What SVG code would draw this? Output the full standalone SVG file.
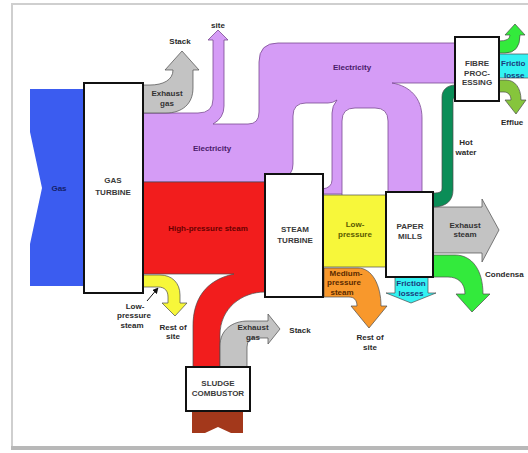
<svg xmlns="http://www.w3.org/2000/svg" width="528" height="453" viewBox="0 0 528 453">
<defs>
<style>
.fl{stroke:#4a4a4a;stroke-width:0.7;stroke-linejoin:round}
.pu{fill:#d59cf6;stroke:#7a4a92;stroke-width:0.8;stroke-linejoin:round}
.hole{fill:#ffffff;stroke:#7a4a92;stroke-width:0.8}
.box{fill:#ffffff;stroke:#111111;stroke-width:2}
text{font-family:"Liberation Sans",Arial,sans-serif;font-size:8px;font-weight:bold;fill:#2a2a2a}
.c{text-anchor:middle}
.bx{fill:#3a3a3a}
</style>
<marker id="ah" viewBox="0 0 10 10" refX="9" refY="5" markerWidth="6" markerHeight="6" orient="auto"><path d="M0,0 L10,5 L0,10 Z" fill="#111"/></marker>
</defs>
<rect x="0" y="0" width="528" height="453" fill="#ffffff"/>
<rect x="12" y="4" width="530" height="443" fill="#ffffff" stroke="#cfcfcf" stroke-width="2"/>
<rect x="11" y="446" width="530" height="4" fill="#b8b8b8"/>

<g id="flows">
<path id="gas" d="M30,89 L86,89 L86,286 L30,286 L30,244 L42,188 L30,132 Z" fill="#3b5cf0"/>
<path id="electricity" class="pu" d="M143,113 L198,113 Q213,113 213,99 L213,40 L208,40 L218,30 L228,40 L224,40 L224,106 Q224,118 213,124 L248,124 Q259,124 259,112 L259,62 Q259,43 278,43 L456,43 L456,83 L392,83 C410,86 422,98 422,118 L422,194 L323,194 L323,174 L265,174 L265,182 L143,182 Z"/>
<path class="hole" d="M283,176 Q293,176 293,164 L293,116 Q293,103 306,103 L328,103 Q333,103 337,100 Q332,106 332,113 L332,180 Q332,188 322,189 L283,189 Z"/>
<path class="hole" d="M342,198 L342,121 Q342,108 355,108 L375,108 Q388,108 388,121 L388,198 Z"/>
<path id="gt-exhaust" class="fl" fill="#c3c3c3" d="M143,85 L150,85 C163,85 173,80 173,70 L165,70 L182,51 L199,70 L193,70 L193,88 C193,104 182,113 166,113 L143,113 Z"/>
<path id="hp-steam" class="fl" fill="#f21d1d" d="M143,182 L265,182 L265,292 C242,292 220,308 220,335 L220,368 L193,368 L193,326 C193,300 205,280 234,274 L143,274 Z"/>
<path id="lp-left" class="fl" fill="#f7f73a" d="M143,275 L160,275 C172,275 180,283 180,295 L180,303 L187,303 L175,316 L162,303 L168,303 L168,297 C168,291 165,287 158,287 L143,287 Z"/>
<path id="sludge-exhaust" class="fl" fill="#c3c3c3" d="M220,368 L220,346 C220,330 232,321 248,321 L268,321 L268,314 L280,329 L268,344 L268,338 L256,338 Q247,338 247,347 L247,368 Z"/>
<path id="sludge-in" fill="#a3381b" d="M192,411 L243,411 L243,433 L231,433 L218,427 L205,433 L192,433 Z"/>
<rect id="lp-mid" class="fl" x="323" y="195" width="64" height="72" fill="#f7f73a"/>
<path id="mp-steam" class="fl" fill="#f8982c" d="M324,268 L358,268 C372,268 381,285 381,306 L387,306 L369,328 L351,306 L357,306 C357,300 354,297 349,297 L324,297 Z"/>
<path id="friction-pm" class="fl" fill="#33f2f2" d="M395,277 L428,277 L428,293 L436,293 L411,303 L386,293 L395,293 Z"/>
<path id="exhaust-steam" class="fl" fill="#c3c3c3" d="M433,207 L482,207 L482,199 L499,230 L482,262 L482,253 L433,253 Z"/>
<path id="condensate" class="fl" fill="#33ea3c" d="M433,255 L455,255 C472,255 483,270 483,294 L490,294 L472,312 L456,294 L465,294 C465,283 458,277 448,277 L433,277 Z"/>
<path id="hot-water" class="fl" fill="#0b8d57" d="M456,85 C447,85 442,90 442,97 L442,188 C442,192 440,193 433,193 L433,207 C447,207 453,200 453,190 L453,100 C453,98 454,98 456,98 Z"/>
<path id="fp-green" class="fl" fill="#33ea3c" d="M499,41 Q510,41 510,35 L505,35 L515,24 L525,35 L520,35 Q520,53 505,53 L499,53 Z"/>
<rect id="fp-friction" class="fl" x="499" y="54" width="32" height="24" fill="#33f2f2"/>
<path id="effluent" class="fl" fill="#86c53c" d="M499,80 L506,80 C515,80 521,88 521,100 L526,100 L516,114 L505,100 L511,100 C511,95 508,92 504,92 L499,92 Z"/>
<line x1="147" y1="301" x2="158" y2="288" stroke="#111" stroke-width="1" marker-end="url(#ah)"/>
</g>

<g id="gas-turbine"><rect class="box" x="84" y="83" width="59" height="210"/><text class="c bx" x="113" y="183">GAS</text><text class="c bx" x="113" y="195">TURBINE</text></g>
<g id="steam-turbine"><rect class="box" x="265" y="174" width="58" height="123"/><text class="c bx" x="295" y="232">STEAM</text><text class="c bx" x="295" y="243">TURBINE</text></g>
<g id="paper-mills"><rect class="box" x="386" y="192" width="47" height="85"/><text class="c bx" x="410" y="229">PAPER</text><text class="c bx" x="410" y="239">MILLS</text></g>
<g id="fibre-processing"><rect class="box" x="455" y="37" width="44" height="64"/><text class="c bx" x="477" y="66">FIBRE</text><text class="c bx" x="477" y="76">PROC-</text><text class="c bx" x="477" y="85">ESSING</text></g>
<g id="sludge-combustor"><rect class="box" x="186" y="367" width="64" height="44"/><text class="c bx" x="218" y="386">SLUDGE</text><text class="c bx" x="218" y="396">COMBUSTOR</text></g>

<g id="labels">
<text class="c" x="59" y="191" style="fill:#14206a">Gas</text>
<text class="c" x="167" y="96" style="fill:#333">Exhaust</text>
<text class="c" x="167" y="106" style="fill:#333">gas</text>
<text class="c" x="180" y="44">Stack</text>
<text class="c" x="218" y="28">site</text>
<text class="c" x="212" y="151" style="fill:#4a1a6a">Electricity</text>
<text class="c" x="352" y="70" style="fill:#4a1a6a">Electricity</text>
<text class="c" x="208" y="231" style="fill:#6a0000">High-pressure steam</text>
<text class="c" x="355" y="227" style="fill:#5a5a00">Low-</text>
<text class="c" x="355" y="237" style="fill:#5a5a00">pressure</text>
<text class="c" x="465" y="228" style="fill:#333">Exhaust</text>
<text class="c" x="465" y="237" style="fill:#333">steam</text>
<text class="c" x="466" y="145">Hot</text>
<text class="c" x="466" y="155">water</text>
<text x="501" y="66" style="fill:#1a3a7a">Frictio</text>
<text x="504" y="78" style="fill:#1a3a7a">losse</text>
<text x="501" y="125">Efflue</text>
<text x="485" y="277">Condensa</text>
<text class="c" x="346" y="276" style="fill:#5a2a00">Medium-</text>
<text class="c" x="344" y="285" style="fill:#5a2a00">pressure</text>
<text class="c" x="342" y="295" style="fill:#5a2a00">steam</text>
<text class="c" x="370" y="340">Rest of</text>
<text class="c" x="370" y="350">site</text>
<text class="c" x="411" y="286" style="fill:#1a3a7a">Friction</text>
<text class="c" x="411" y="296" style="fill:#1a3a7a">losses</text>
<text class="c" x="300" y="333">Stack</text>
<text class="c" x="253" y="330" style="fill:#333">Exhaust</text>
<text class="c" x="253" y="340" style="fill:#333">gas</text>
<text class="c" x="135" y="309">Low-</text>
<text class="c" x="134" y="318">pressure</text>
<text class="c" x="132" y="328">steam</text>
<text class="c" x="173" y="330">Rest of</text>
<text class="c" x="173" y="339">site</text>
</g>
</svg>
